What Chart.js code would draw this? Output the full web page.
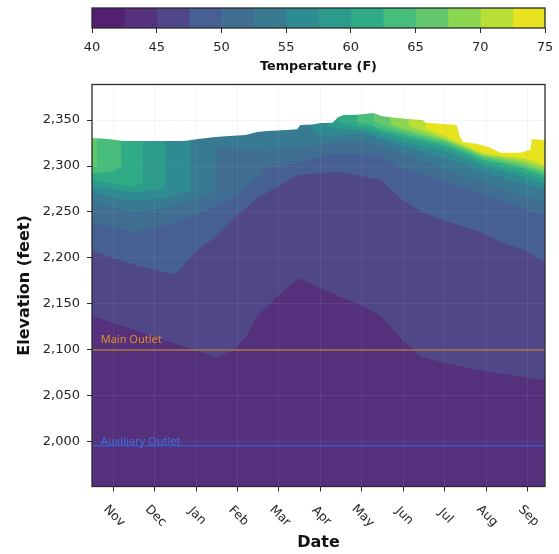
<!DOCTYPE html>
<html>
<head>
<meta charset="utf-8">
<style>
    html, body { margin: 0; padding: 0; background: #fff; }
    canvas { position: absolute; left: 0; }
    #colorbar { top: 0; }
    #chart { top: 80px; }
</style>
<script src="https://cdn.jsdelivr.net/npm/chart.js@4/dist/chart.umd.min.js"></script>
</head>
<body>
<canvas id="colorbar" width="559" height="80"></canvas>
<canvas id="chart" width="559" height="474"></canvas>
<script>
const monthLabels = ['Nov', 'Dec', 'Jan', 'Feb', 'Mar', 'Apr', 'May', 'Jun', 'Jul', 'Aug', 'Sep'];

const tempLevels = [40, 42.5, 45, 47.5, 50, 52.5, 55, 57.5, 60, 62.5, 65, 67.5, 70, 72.5, 75];
const bandColors = ['#521f72', '#55307d', '#4f4788', '#476093', '#406e93', '#377a92', '#2e8b91', '#2c9b8b',
    '#2fac85', '#47bd7c', '#63c86d', '#8bd651', '#b8df35', '#e8e31f'];

// water surface, months counted from Nov
const surfaceMonth = [-0.51, -0.12, 0.24, 1.71, 2.05, 2.46, 2.8, 3.19, 3.48, 3.72, 4.08, 4.44, 4.52, 4.81, 5, 5.29,
    5.43, 5.56, 5.89, 6.28, 6.47, 6.69, 7.1, 7.46, 7.54, 7.97, 8.29, 8.35, 8.43, 8.79, 9.06, 9.35, 9.83, 10.07, 10.1, 10.42];
const surfaceElev = [2330.4, 2329.3, 2327.2, 2327.2, 2329.3, 2331.5, 2332.6, 2333.7, 2337, 2338, 2339, 2340, 2344.6, 2345, 2346.7, 2347,
    2353, 2355.4, 2355.8, 2357.6, 2354.3, 2353, 2351, 2350, 2347, 2345.7, 2344.6, 2333.7, 2326.4, 2324, 2320.7, 2314.5, 2314.5, 2318, 2329.3, 2328.3];

// lower edge of the water warmer than each level
const month45 = [-0.51, 0.5, 2.49, 2.9, 3.24, 3.46, 3.96, 4.47, 5, 5.97, 6.45, 6.93, 7.41, 7.97, 8.94, 10.42];
const elev45 = [2137, 2122, 2092, 2100, 2116, 2137, 2158, 2178, 2167, 2149, 2137, 2113, 2093, 2086, 2077, 2067];
const month475 = [-0.51, 0.46, 1.5, 2.03, 2.4, 3, 3.48, 4.44, 5, 5.44, 5.97, 6.45, 6.93, 7.49, 7.97, 8.94, 9.42, 9.9, 10.42];
const elev475 = [2208, 2193, 2182, 2209, 2220, 2247, 2265, 2290, 2292, 2294, 2289, 2285, 2265, 2249, 2241, 2227, 2216, 2209, 2196];
const month50 = [-0.51, 0.48, 1.2, 1.93, 3, 3.74, 4.44, 5, 5.44, 5.97, 6.45, 6.93, 7.49, 7.97, 8.94, 9.9, 10.42];
const elev50 = [2238, 2228, 2235, 2245, 2268, 2298, 2303, 2310, 2314, 2312, 2312, 2298, 2290, 2283, 2268, 2254, 2245];
const month525 = [-0.51, 0.48, 1.21, 1.93, 2.46, 2.49, 3.14, 3.72, 4.44, 5, 5.48, 5.97, 6.47, 6.93, 8, 8.94, 9.83, 10.42];
const elev525 = [2260, 2250, 2254, 2263, 2272, 2320, 2318.5, 2316, 2321, 2323, 2327, 2326, 2322, 2315, 2296, 2282, 2268.5, 2261];
const month55 = [-0.51, 0.48, 1.21, 1.88, 1.88, 4.78, 4.78, 5, 5.48, 5.97, 6.47, 6.93, 8, 8.94, 9.83, 10.42];
const elev55 = [2271, 2262, 2265, 2274, 2400, 2400, 2339, 2333, 2333, 2336, 2329, 2322, 2309, 2293.5, 2281.5, 2274];
const month575 = [-0.51, 0.48, 1.26, 1.26, 5.17, 5.17, 5.43, 5.97, 6.47, 6.93, 8, 8.94, 9.83, 10.42];
const elev575 = [2278, 2271, 2275, 2400, 2400, 2343.5, 2341, 2339, 2333, 2327, 2316, 2300, 2289, 2280];
const month60 = [-0.51, 0.48, 0.72, 0.72, 5.43, 5.43, 5.72, 5.97, 6.47, 6.93, 8, 8.94, 9.83, 10.42];
const elev60 = [2285, 2277, 2281.5, 2400, 2400, 2348, 2344.6, 2342.4, 2337, 2331.5, 2320.7, 2303, 2293.5, 2285];
const month625 = [-0.51, -0.07, 0.19, 0.19, 5.89, 5.89, 6.21, 6.47, 6.93, 8, 8.94, 9.83, 10.42];
const elev625 = [2292, 2293.5, 2299, 2400, 2400, 2347, 2344.6, 2340, 2335, 2323.4, 2306.5, 2298, 2289];
const month65 = [-0.51, -0.39, -0.39, 6.28, 6.28, 6.47, 6.93, 8, 8.94, 9.83, 10.42];
const elev65 = [2299, 2299, 2400, 2400, 2348, 2344.6, 2338, 2326, 2309, 2300, 2292.4];
const month675 = [6.69, 6.69, 6.93, 8, 8.94, 9.83, 10.42];
const elev675 = [2400, 2345.7, 2341, 2328, 2311, 2303, 2294.6];
const month70 = [7.13, 7.13, 7.54, 8, 8.94, 9.35, 9.83, 10.07, 10.42];
const elev70 = [2400, 2343.5, 2337, 2330, 2312, 2310, 2306.5, 2303, 2298];
const month725 = [7.54, 7.54, 8, 8.94, 9.35, 9.83, 10.07, 10.42];
const elev725 = [2400, 2341, 2332.6, 2313.6, 2311, 2309, 2306.5, 2301];

const outletNames = ['Main Outlet', 'Auxiliary Outlet'];
const outletElev = [2100, 1996];
const outletLineColors = ['#a8713e', '#3a58c0'];
const outletTextColors = ['#dd8f28', '#3f6fd8'];

const xMin = -0.51, xMax = 10.42, yMin = 1951.6, yMax = 2388.6, yTop = 2400;

// ─── helpers ────────────────────────────────────────────────────────────────

// closes a contour along the top of the plot, the surface mask trims it later
function region(label, xs, ys, color) {
    const data = xs.map((x, i) => ({x, y: ys[i]}));
    data.push({x: xs[xs.length - 1], y: yTop}, {x: xs[0], y: yTop});
    return {label, data, showLine: true, fill: 'shape', backgroundColor: color, borderWidth: 0, pointRadius: 0};
}

const frame = {
    id: 'frame',
    afterDraw(chart) {
        const {ctx, chartArea: a} = chart;
        ctx.save();
        ctx.strokeStyle = '#2a2a2a';
        ctx.lineWidth = 1.3;
        ctx.strokeRect(a.left, a.top, a.right - a.left, a.bottom - a.top);
        ctx.restore();
    }
};

const plotLabels = {
    id: 'plotLabels',
    afterDraw(chart) {
        const {ctx, scales: {x, y}} = chart;
        ctx.save();
        // x tick labels lean the other way than chart.js allows
        ctx.fillStyle = '#262626';
        ctx.font = '12.5px "DejaVu Sans"';
        ctx.textAlign = 'center';
        ctx.textBaseline = 'middle';
        monthLabels.forEach((m, i) => {
            ctx.save();
            ctx.translate(x.getPixelForValue(i) + 1, 436);
            ctx.rotate(45 * Math.PI / 180);
            ctx.fillText(m, 0, 0);
            ctx.restore();
        });
        // outlet names sit just above their lines
        ctx.font = '11px "Noto Sans"';
        ctx.textAlign = 'left';
        ctx.textBaseline = 'alphabetic';
        outletNames.forEach((n, i) => {
            ctx.fillStyle = outletTextColors[i];
            ctx.fillText(n, x.getPixelForValue(-0.3), y.getPixelForValue(outletElev[i]) - (i ? 1 : 7));
        });
        ctx.restore();
    }
};

// ─── colorbar ───────────────────────────────────────────────────────────────

new Chart(document.getElementById('colorbar'), {
    type: 'bar',
    data: {
        labels: ['Temperature'],
        datasets: bandColors.map((c, i) => ({
            data: [[tempLevels[i], tempLevels[i + 1]]],
            backgroundColor: c,
            grouped: false,
            barPercentage: 1,
            categoryPercentage: 1
        }))
    },
    options: {
        indexAxis: 'y',
        responsive: false,
        animation: false,
        layout: {padding: {left: 92, right: 14, top: 8, bottom: 0}},
        plugins: {legend: {display: false}, tooltip: {enabled: false}},
        scales: {
            x: {
                type: 'linear',
                min: 40,
                max: 75,
                afterFit: s => { s.height = 52; s.paddingLeft = 0; s.paddingRight = 0; },
                ticks: {stepSize: 5, color: '#262626', padding: 7, maxRotation: 0, font: {family: 'DejaVu Sans', size: 13}},
                grid: {drawOnChartArea: false, tickLength: 5, tickColor: '#2a2a2a'},
                border: {display: false},
                title: {display: true, text: 'Temperature (F)', color: '#111', padding: {top: 4, bottom: 6},
                    font: {family: 'DejaVu Sans', size: 12.8, weight: 'bold'}}
            },
            y: {display: false}
        }
    },
    plugins: [frame]
});

// ─── contour plot ───────────────────────────────────────────────────────────

const layers = [
    region('40', [xMin, xMax], [yMin, yMin], bandColors[1]),
    region('45', month45, elev45, bandColors[2]),
    region('47.5', month475, elev475, bandColors[3]),
    region('50', month50, elev50, bandColors[4]),
    region('52.5', month525, elev525, bandColors[5]),
    region('55', month55, elev55, bandColors[6]),
    region('57.5', month575, elev575, bandColors[7]),
    region('60', month60, elev60, bandColors[8]),
    region('62.5', month625, elev625, bandColors[9]),
    region('65', month65, elev65, bandColors[10]),
    region('67.5', month675, elev675, bandColors[11]),
    region('70', month70, elev70, bandColors[12]),
    region('72.5', month725, elev725, bandColors[13]),
    region('surface', surfaceMonth, surfaceElev, '#ffffff')
];
const outlets = outletNames.map((n, i) => ({
    label: n,
    data: [{x: xMin, y: outletElev[i]}, {x: xMax, y: outletElev[i]}],
    showLine: true,
    borderColor: outletLineColors[i],
    borderWidth: 1.5,
    pointRadius: 0
}));
const datasets = layers.concat(outlets);
// later datasets paint on top
datasets.forEach((d, i) => { d.order = datasets.length - i; });

new Chart(document.getElementById('chart'), {
    type: 'scatter',
    data: {datasets},
    options: {
        responsive: false,
        animation: false,
        layout: {padding: {left: 0, right: 14, top: 4.5, bottom: 0}},
        plugins: {legend: {display: false}, tooltip: {enabled: false}},
        scales: {
            x: {
                type: 'linear',
                min: xMin,
                max: xMax,
                afterFit: s => { s.height = 67.5; s.paddingLeft = 0; s.paddingRight = 0; },
                ticks: {stepSize: 1, includeBounds: false, display: false},
                grid: {z: 1, color: 'rgba(170,170,170,0.13)', tickColor: '#2a2a2a', tickLength: 5},
                border: {display: false},
                title: {display: true, text: 'Date', color: '#111', padding: {top: 0, bottom: 2},
                    font: {family: 'DejaVu Sans', size: 16, weight: 'bold'}}
            },
            y: {
                min: yMin,
                max: yMax,
                afterFit: s => { s.width = 92; s.paddingTop = 0; s.paddingBottom = 0; },
                ticks: {stepSize: 50, includeBounds: false, color: '#262626', padding: 7, font: {family: 'DejaVu Sans', size: 13},
                    callback: v => v.toLocaleString('en-US')},
                grid: {z: 1, color: 'rgba(170,170,170,0.13)', tickColor: '#2a2a2a', tickLength: 5},
                border: {display: false},
                title: {display: true, text: 'Elevation (feet)', color: '#111', padding: {top: 15, bottom: 0},
                    font: {family: 'DejaVu Sans', size: 16, weight: 'bold'}}
            }
        }
    },
    plugins: [frame, plotLabels]
});
</script>
</body>
</html>
